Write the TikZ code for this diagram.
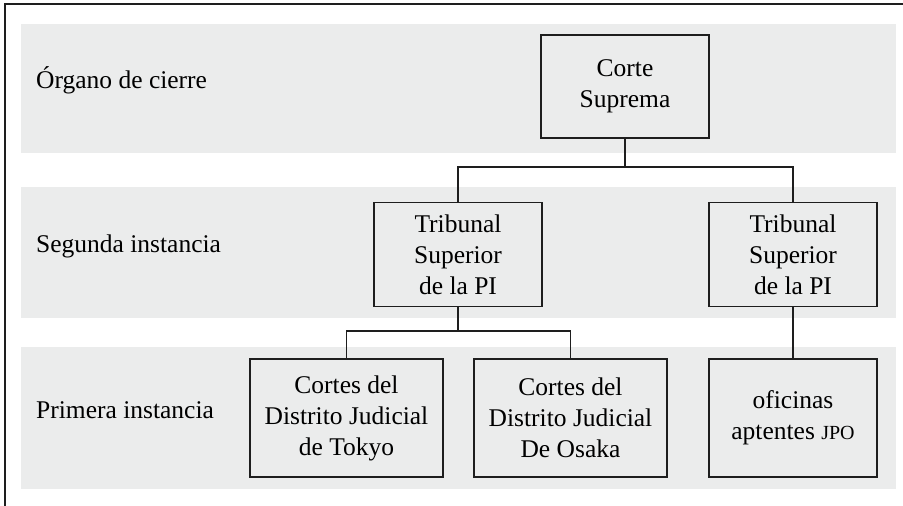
\documentclass[tikz,border=0pt]{standalone}
\usepackage{fontspec}
\setmainfont{Liberation Serif}
\definecolor{band}{RGB}{235,236,236}
\definecolor{ink}{RGB}{30,30,30}
\tikzset{
  bandbox/.style={fill=band, draw=none},
  orgbox/.style={draw=ink, line width=1.1pt, fill=none, align=center, inner sep=0pt, font=\fontsize{25.5}{31}\selectfont},
  lvl/.style={anchor=base west, inner sep=0pt, font=\fontsize{25.5}{31}\selectfont, text=black},
  conn/.style={draw=ink, line width=1.1pt},
}
\newcommand{\smjpo}{{\fontsize{20}{20}\selectfont JPO}}
\begin{document}
\begin{tikzpicture}[x=1pt,y=-1pt]
\useasboundingbox (0,0) rectangle (903,506);
% frame
\draw[ink, line width=1.2pt] (903,4) -- (5,4) -- (5,506);
% bands
\fill[band] (21,24) rectangle (896,153);
\fill[band] (21,187) rectangle (896,318);
\fill[band] (21,347) rectangle (896,489);
% level labels
\node[lvl] (l1) at (36,88) {Órgano de cierre};
\node[lvl] (l2) at (36,252) {Segunda instancia};
\node[lvl] (l3) at (36,418) {Primera instancia};
% boxes
\node[orgbox, minimum width=168pt, minimum height=103pt] (cs) at (625,86.5) {Corte\\Suprema};
\node[orgbox, minimum width=168pt, minimum height=104pt] (t1) at (458,254.5) {Tribunal\\Superior\\de la PI};
\node[orgbox, minimum width=168pt, minimum height=104pt] (t2) at (793,254.5) {Tribunal\\Superior\\de la PI};
\node[orgbox, minimum width=193pt, minimum height=118pt] (tk) at (346.5,418) {Cortes del\\Distrito Judicial\\de Tokyo};
\node[orgbox, minimum width=193pt, minimum height=118pt] (os) at (570.5,418) {Cortes del\\Distrito Judicial\\De Osaka};
\node[orgbox, minimum width=168pt, minimum height=118pt] (jp) at (793,418) {oficinas\\aptentes \smjpo};
% connectors
\coordinate (j1) at (625,167);
\coordinate (j2) at (458,331);
\draw[conn] (cs.south) -- (j1);
\draw[conn] (t1.north) |- (j1) -| (t2.north);
\draw[conn] (t1.south) -- (j2);
\draw[conn] (tk.north) |- (j2) -| (os.north);
\draw[conn] (t2.south) -- (jp.north);
\end{tikzpicture}
\end{document}
